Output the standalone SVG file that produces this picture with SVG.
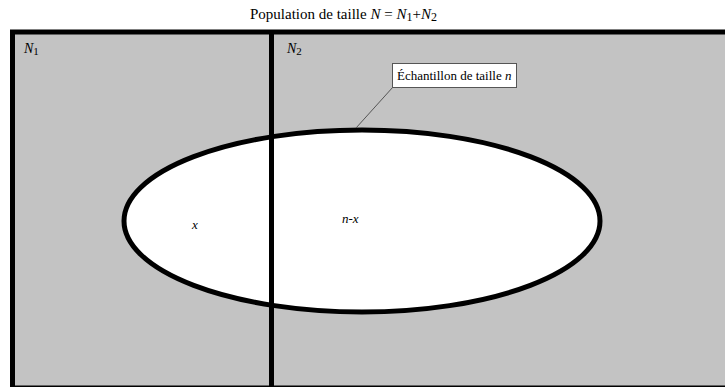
<svg xmlns="http://www.w3.org/2000/svg" width="725" height="387" viewBox="0 0 725 387">
<style>
text{font-family:"Liberation Serif","DejaVu Serif","Times New Roman",serif;fill:#000}
.t{font-size:13px}
.i{font-style:italic}
</style>
<rect width="725" height="387" fill="#fff"/>
<g id="population">
<rect x="12.5" y="32" width="800" height="356" fill="#c3c3c3" stroke="#000" stroke-width="5"/>
</g>
<g id="divider">
<line x1="271.5" y1="30" x2="271.5" y2="387" stroke="#000" stroke-width="5"/>
</g>
<g id="sample">
<ellipse cx="362" cy="221" rx="238" ry="91" fill="#fff" stroke="#000" stroke-width="5"/>
</g>
<g id="divider-inner">
<line x1="271.5" y1="128" x2="271.5" y2="314" stroke="#000" stroke-width="5"/>
</g>
<g id="connectors">
<line x1="393" y1="87" x2="356" y2="128" stroke="#555" stroke-width="1"/>
</g>
<g id="title">
<text x="250" y="19" font-family="Liberation Serif, serif" font-size="15">Population de taille <tspan class="i">N</tspan> =  <tspan class="i">N</tspan><tspan font-size="12" dy="2">1</tspan><tspan dy="-2">+</tspan><tspan class="i">N</tspan><tspan font-size="12" dy="2">2</tspan></text>
</g>
<g id="n1">
<text class="i" x="24" y="53" font-family="Liberation Serif, serif" font-size="14">N<tspan font-style="normal" font-size="11" dy="2">1</tspan></text>
</g>
<g id="n2">
<text class="i" x="287" y="53" font-family="Liberation Serif, serif" font-size="14">N<tspan font-style="normal" font-size="11" dy="2">2</tspan></text>
</g>
<g id="label">
<rect x="392.5" y="63.5" width="124" height="24" fill="#fff" stroke="#555" stroke-width="1"/>
<text class="t" x="397" y="80">Échantillon de taille <tspan class="i">n</tspan></text>
</g>
<g id="x-label">
<text class="t i" x="192" y="229">x</text>
</g>
<g id="nx-label">
<text class="t i" x="342" y="223">n-x</text>
</g>
</svg>
